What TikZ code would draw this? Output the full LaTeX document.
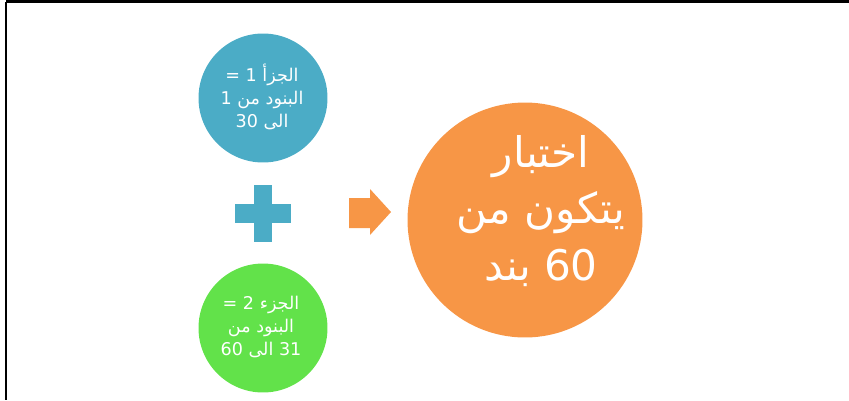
\documentclass[tikz,border=0pt]{standalone}
\usepackage{fontspec}
\usetikzlibrary{positioning}
\newfontfamily\arabicfont[Script=Arabic]{DejaVu Sans}
\TeXXeTstate=1
\definecolor{partblue}{RGB}{75,172,198}
\definecolor{partgreen}{RGB}{98,226,74}
\definecolor{testorange}{RGB}{247,150,70}
\tikzset{
  partcircle/.style={circle,minimum size=2.58cm,inner sep=0pt,draw=none},
  parttext/.style={text=white,align=center,font=\arabicfont\fontsize{10}{13.1}\selectfont},
  bigtext/.style={text=white,align=center,font=\arabicfont\fontsize{24}{32}\selectfont}
}

\begin{document}
\begin{tikzpicture}[x=0.02cm,y=-0.02cm]
\useasboundingbox (0,0) rectangle (849,400);
\draw[line width=1.4pt] (6,1.5) -- (849,1.5);
\draw[line width=1.4pt] (6,1.5) -- (6,400);

\node[partcircle,fill=partblue] (part1) at (263,98) {};
\node[partcircle,fill=partgreen] (part2) at (263,328) {};
\node[circle,minimum size=4.7cm,inner sep=0pt,fill=testorange] (test) at (525,220) {};

\node[parttext] (part1txt) at (262,97) {\beginR الجزأ 1 =\endR\\\beginR البنود من 1\endR\\\beginR الى 30\endR};
\node[parttext] (part2txt) at (261,327) {\beginR الجزء 2 =\endR\\\beginR البنود من\endR\\\beginR 31 الى 60\endR};
\node[bigtext] (testtxt) at (541,211) {\beginR اختبار\endR\\\beginR يتكون من\endR\\\beginR 60 بند\endR};

% plus sign
\coordinate (plus) at (263,213.5);
\fill[partblue] ([xshift=-28*0.02cm,yshift=9.5*0.02cm]plus) rectangle ([xshift=28*0.02cm,yshift=-9.5*0.02cm]plus);
\fill[partblue] ([xshift=-9*0.02cm,yshift=28.5*0.02cm]plus) rectangle ([xshift=9*0.02cm,yshift=-28.5*0.02cm]plus);

% arrow
\fill[testorange] (349,198) -- (370,198) -- (370,189) -- (391,212) -- (370,235) -- (370,228) -- (349,228) -- cycle;
\end{tikzpicture}
\end{document}
